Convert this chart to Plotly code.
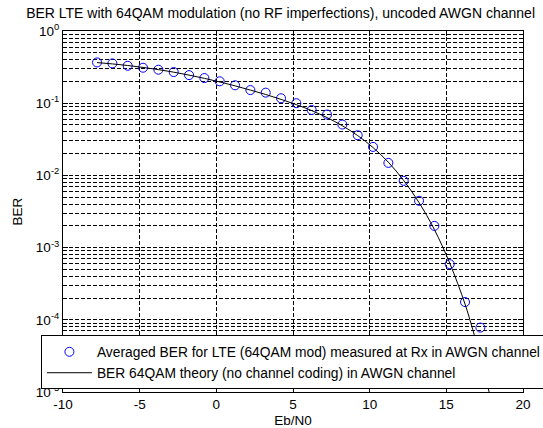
import plotly.graph_objects as go

# Data
ebn0_meas = [-7.78, -6.78, -5.78, -4.78, -3.78, -2.78, -1.78, -0.78, 0.22, 1.22,
             2.22, 3.22, 4.22, 5.22, 6.22, 7.22, 8.22, 9.22, 10.22, 11.22,
             12.22, 13.22, 14.22, 15.22, 16.22, 17.22]
ber_meas = [0.367, 0.356, 0.330, 0.310, 0.291, 0.270, 0.245, 0.223, 0.201, 0.177,
            0.152, 0.140, 0.117, 0.100, 0.0805, 0.0696, 0.0506, 0.0360, 0.0248, 0.0149,
            0.0084, 0.00445, 0.0020, 0.00059, 0.000176, 0.000078]

ebn0_theory = [-7.78, -6.78, -5.78, -4.78, -3.78, -2.78, -1.78, -0.78, 0.22, 1.22,
               2.22, 3.22, 4.22, 5.22, 6.22, 7.22, 8.22, 9.22, 10.22, 11.22,
               12.22, 13.22, 14.22, 15.22, 16.22, 16.72, 17.22, 17.72, 18.22]
ber_theory = [0.365, 0.350, 0.333, 0.313, 0.292, 0.269, 0.245, 0.221, 0.197, 0.174,
              0.152, 0.132, 0.113, 0.0955, 0.0790, 0.0632, 0.0487, 0.0356, 0.0243, 0.0152,
              0.0085, 0.0042, 0.00178, 0.000610, 0.000165, 0.0000735, 0.0000305, 0.0000115, 0.0000042]

xticks = [-10, -5, 0, 5, 10, 15, 20]
ytick_exps = [0, -1, -2, -3, -4, -5]

title_text = "BER LTE with 64QAM modulation (no RF imperfections), uncoded AWGN channel"
name_meas = "Averaged BER for LTE (64QAM mod) measured at Rx in AWGN channel"
name_theory = "BER 64QAM theory (no channel coding) in AWGN channel"

font_family = "Liberation Sans, Arial, sans-serif"

fig = go.Figure()
fig.add_trace(go.Scatter(
    x=ebn0_meas, y=ber_meas, mode="markers", name=name_meas,
    marker=dict(symbol="circle-open", size=9, color="#0000ff", line=dict(width=1, color="#0000ff")),
))
fig.add_trace(go.Scatter(
    x=ebn0_theory, y=ber_theory, mode="lines", name=name_theory,
    line=dict(color="black", width=1, shape="spline"),
))

grid_dash = "4px,2px"

fig.update_layout(
    width=543, height=428,
    margin=dict(l=63, r=20, t=31, b=36, autoexpand=False),
    paper_bgcolor="white", plot_bgcolor="white",
    font=dict(family=font_family, size=13, color="black"),
    title=dict(text=title_text, x=0.473, xref="paper", xanchor="center",
               y=1 - 13 / 428, yref="container", yanchor="middle", automargin=False,
               font=dict(size=14, family=font_family, color="black")),
    showlegend=True,
    legend=dict(x=-0.048, y=0.157, xanchor="left", yanchor="top",
                bgcolor="white", bordercolor="black", borderwidth=1,
                font=dict(size=13.8, family=font_family, color="black"),
                tracegroupgap=0, itemwidth=45),
    xaxis=dict(
        range=[-10, 20], tickvals=xticks, ticktext=[str(v) for v in xticks],
        showline=True, linecolor="black", linewidth=1, mirror="ticks",
        ticks="inside", ticklen=5, tickcolor="black",
        showgrid=True, gridcolor="black", gridwidth=1, griddash=grid_dash,
        zeroline=False, automargin=False,
        ticklabelstandoff=0,
        title=dict(text="Eb/N0", standoff=4, font=dict(size=13.5)),
        tickfont=dict(size=13.5),
    ),
    yaxis=dict(
        type="log", range=[-5, 0],
        tickvals=[10 ** e for e in ytick_exps],
        ticktext=["10<sup>%d</sup>" % e for e in ytick_exps],
        showline=True, linecolor="black", linewidth=1, mirror="ticks",
        ticks="inside", ticklen=5, tickcolor="black",
        showgrid=True, gridcolor="black", gridwidth=1, griddash=grid_dash,
        zeroline=False, automargin=False,
        minor=dict(dtick="D1", ticks="inside", ticklen=3, tickcolor="black",
                   showgrid=True, gridcolor="black", gridwidth=1, griddash=grid_dash),
        title=dict(text="BER", standoff=10, font=dict(size=13.5)),
        tickfont=dict(size=13.5),
    ),
)

fig.write_html("out.html")
